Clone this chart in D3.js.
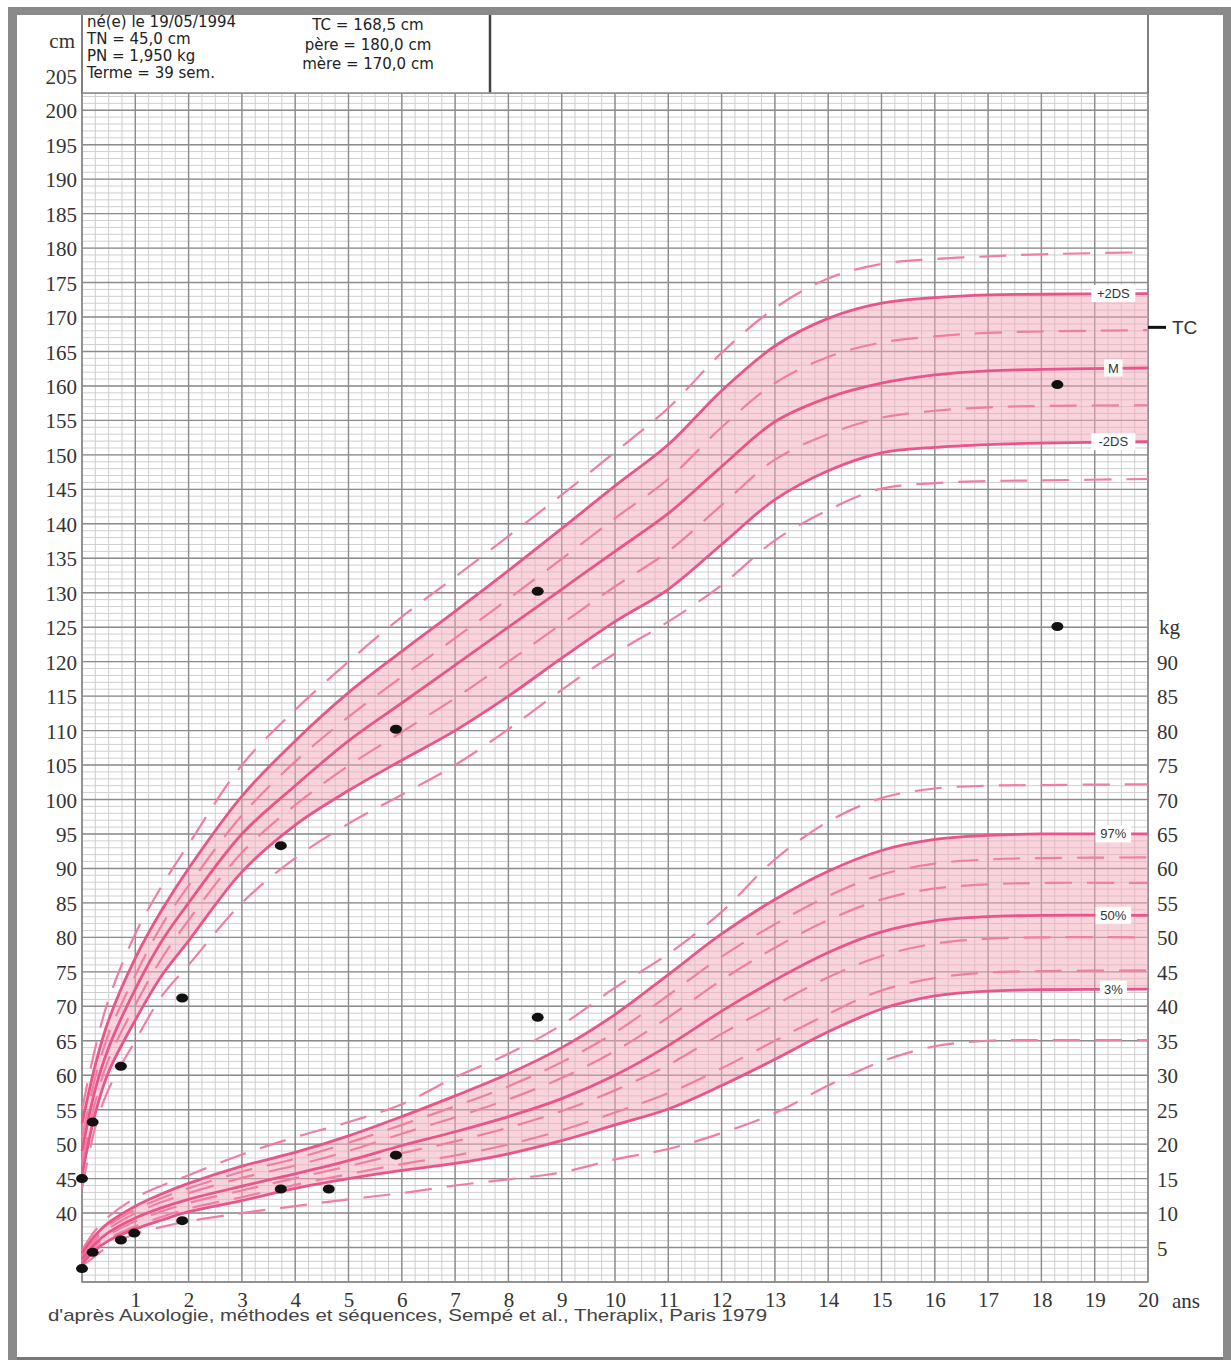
<!DOCTYPE html>
<html>
<head>
<meta charset="utf-8">
<script src="https://cdn.jsdelivr.net/npm/d3@7"></script>
<style>
body { margin: 0; background: #fff; }
</style>
</head>
<body>
<div id="chart"></div>
<script>
// ages (years)
var ages = [0, 0.25, 0.5, 1, 1.5, 2, 3, 4, 5, 6, 7, 8, 9, 10, 11, 12, 13, 14, 15, 16, 17, 18, 20];

// height curves (cm)
var hP3 = [55, 64, 71, 80.5, 87.5, 93.5, 105, 113, 120, 126.5, 132.3, 138.2, 144.2, 150.4, 156.8, 164.8, 171.3, 175.6, 177.7, 178.4, 178.8, 179.1, 179.4];
var hP2 = [53, 61.5, 68, 77, 84, 90, 100.5, 108.5, 115.5, 121.5, 127.3, 133.2, 139.3, 145.5, 151.5, 159.3, 165.8, 169.8, 172, 172.8, 173.2, 173.3, 173.4];
var hP1 = [51, 59.7, 66, 74.5, 81.8, 87.5, 97.7, 105.5, 112, 117.8, 123.4, 129.1, 134.9, 140.8, 146.5, 154, 160.4, 164.2, 166.3, 167.2, 167.7, 167.9, 168.1];
var hM  = [49, 58, 64, 72.5, 79.5, 85, 95, 102, 108.5, 114, 119.5, 125, 130.5, 136, 141.5, 148.3, 154.8, 158.3, 160.4, 161.6, 162.2, 162.4, 162.6];
var hM1 = [47.2, 56.2, 62.3, 70.2, 77, 82.5, 92.3, 99.2, 104.9, 109.8, 114.7, 120, 125.5, 130.9, 136, 142.7, 149.3, 153, 155.4, 156.4, 156.9, 157.1, 157.2];
var hM2 = [45.5, 54.5, 60.5, 68, 74.5, 79.5, 89.5, 96.3, 101.3, 105.7, 110, 115, 120.5, 125.8, 130.5, 137, 143.5, 147.7, 150.3, 151.1, 151.5, 151.7, 151.9];
var hM3 = [43.5, 52.5, 58, 65, 71.5, 76, 85, 91.5, 96.5, 100.7, 105, 110.2, 115.9, 121.2, 125.8, 131.1, 137.6, 142, 145.1, 145.9, 146.2, 146.3, 146.5];

// weight curves (kg)
var wHi = [4.6, 7.5, 9.5, 12.2, 14, 15.5, 18.5, 21, 23.2, 25.8, 29.7, 33.1, 37.3, 42.7, 47.6, 53.7, 61.3, 66.8, 70.2, 71.6, 72, 72.1, 72.2];
var w97 = [4.2, 6.8, 8.6, 11, 12.8, 14.3, 16.8, 18.8, 21.2, 24, 27, 30.2, 34, 38.8, 44.6, 50.5, 55.5, 59.6, 62.6, 64.2, 64.8, 65, 65];
var w90 = [3.9, 6.45, 8.2, 10.5, 12.2, 13.6, 16, 17.9, 20.2, 22.8, 25.5, 28.4, 31.9, 36.2, 41.6, 47.2, 51.9, 56, 59.1, 60.7, 61.3, 61.5, 61.6];
var w75 = [3.66, 6.1, 7.76, 10, 11.6, 12.9, 15.1, 16.9, 19, 21.5, 23.9, 26.5, 29.6, 33.5, 38.4, 43.8, 48.5, 52.5, 55.5, 57.1, 57.7, 57.9, 57.9];
var w50 = [3.3, 5.6, 7.2, 9.3, 10.8, 12, 13.9, 15.7, 17.6, 19.8, 21.8, 24, 26.6, 30, 34.3, 39.3, 43.8, 47.8, 50.8, 52.4, 53, 53.2, 53.2];
var w25 = [3.1, 5.3, 6.84, 8.82, 10.26, 11.46, 13.27, 15.07, 16.8, 18.7, 20.4, 22.4, 24.8, 27.8, 31.5, 36, 40.2, 44.2, 47.3, 49.1, 49.8, 50, 50];
var w10 = [2.78, 4.85, 6.3, 8.1, 9.45, 10.65, 12.3, 14.1, 15.65, 17.1, 18.35, 19.95, 22, 24.6, 27.4, 31, 35, 38.9, 42.3, 44.1, 44.9, 45.1, 45.2];
var w3  = [2.6, 4.6, 6, 7.7, 9, 10.2, 11.8, 13.6, 15, 16.2, 17.2, 18.6, 20.5, 22.8, 25.1, 28.5, 32.3, 36.3, 39.6, 41.5, 42.2, 42.4, 42.5];
var wLo = [2.3, 3.8, 5.2, 7, 8, 8.8, 10, 11, 12, 12.9, 14, 14.9, 15.9, 17.8, 19.3, 21.6, 24.5, 28.5, 32, 34.2, 35, 35.1, 35.1];

// measurements
var visitAges    = [0, 0.2, 0.73, 0.98, 1.88, 3.73, 4.63, 5.89, 8.55, 18.3];
var visitHeights = [45, 53.2, 61.3, null, 71.2, 93.3, null, 110.2, 130.2, 160.2];
var visitWeights = [1.95, 4.3, 6.1, 7.1, 8.9, 13.5, 13.5, 18.4, 38.4, 95.1];

var cmTicks = d3.range(40, 206, 5);
var kgTicks = d3.range(5, 91, 5);
var yearTicks = d3.range(1, 21);

var headerLeft = ["né(e) le 19/05/1994", "TN = 45,0 cm", "PN = 1,950 kg", "Terme = 39 sem."];
var headerRight = ["TC = 168,5 cm", "père = 180,0 cm", "mère = 170,0 cm"];
var targetHeight = 168.5;

var W = 1231, H = 1360;
var pL = 82, pR = 1148, pT = 93, pB = 1282;

var svg = d3.select("#chart")
  .append("svg")
    .attr("width", W)
    .attr("height", H);

var x = d3.scaleLinear().domain([0, 20]).range([pL, pR]);
var y = d3.scaleLinear().domain([30, 202.5]).range([pB, pT]);
var kg = function(v) { return y(v + 30); };

var pink = "#e9548a", pinkDash = "#f07ea3", fillPink = "#f5a9ba";
var serif = "'Liberation Serif', 'DejaVu Serif', serif";
var sans = "'Liberation Sans', Arial, sans-serif";
var wide = "'DejaVu Sans', Verdana, sans-serif";
var smooth = d3.curveCatmullRom.alpha(0.5);

// page frame
svg.append("rect").attr("x", 8).attr("y", 7).attr("width", 1223).attr("height", 8).attr("fill", "#8a8a8a");
svg.append("rect").attr("x", 8).attr("y", 7).attr("width", 9).attr("height", 1353).attr("fill", "#8a8a8a");
svg.append("rect").attr("x", 1223).attr("y", 7).attr("width", 8).attr("height", 1353).attr("fill", "#8a8a8a");
svg.append("rect").attr("x", 17).attr("y", 1357).attr("width", 1206).attr("height", 3).attr("fill", "#777");

// grid
var grid = svg.append("g");
grid.selectAll(".vmin").data(d3.range(0, 20.01, 0.25)).enter().append("line")
  .attr("x1", function(d) { return x(d); }).attr("x2", function(d) { return x(d); })
  .attr("y1", pT).attr("y2", pB)
  .attr("stroke", "#cfcfcf").attr("stroke-width", 1);
grid.selectAll(".hmin").data(d3.range(30, 203, 1)).enter().append("line")
  .attr("y1", function(d) { return y(d); }).attr("y2", function(d) { return y(d); })
  .attr("x1", pL).attr("x2", pR)
  .attr("stroke", "#cfcfcf").attr("stroke-width", 1);
grid.selectAll(".vmaj").data(d3.range(0, 21)).enter().append("line")
  .attr("x1", function(d) { return x(d); }).attr("x2", function(d) { return x(d); })
  .attr("y1", pT).attr("y2", pB)
  .attr("stroke", "#8c8c8c").attr("stroke-width", 1.4);
grid.selectAll(".hmaj").data(d3.range(30, 203, 5)).enter().append("line")
  .attr("y1", function(d) { return y(d); }).attr("y2", function(d) { return y(d); })
  .attr("x1", pL).attr("x2", pR)
  .attr("stroke", "#8c8c8c").attr("stroke-width", 1.4);
svg.append("rect").attr("x", pL).attr("y", pT)
  .attr("width", pR - pL).attr("height", pB - pT)
  .attr("fill", "none").attr("stroke", "#8c8c8c").attr("stroke-width", 1.5);

// bands
var rows = ages.map(function(a, i) { return i; });
var area = function(lo, hi, f) {
  return d3.area()
    .x(function(i) { return x(ages[i]); })
    .y0(function(i) { return f(lo[i]); })
    .y1(function(i) { return f(hi[i]); })
    .curve(smooth);
};
svg.append("path").datum(rows).attr("d", area(hM2, hP2, y))
  .attr("fill", fillPink).attr("opacity", 0.5);
svg.append("path").datum(rows).attr("d", area(w3, w97, kg))
  .attr("fill", fillPink).attr("opacity", 0.5);

function curve(vals, f, dashed) {
  var line = d3.line()
    .x(function(i) { return x(ages[i]); })
    .y(function(i) { return f(vals[i]); })
    .curve(smooth);
  svg.append("path").datum(rows)
    .attr("d", line)
    .attr("fill", "none")
    .attr("stroke", dashed ? pinkDash : pink)
    .attr("stroke-width", dashed ? 2.2 : 2.8)
    .attr("stroke-dasharray", dashed ? "27,15" : null);
}

[hP3, hP1, hM1, hM3].forEach(function(v) { curve(v, y, true); });
[wHi, w90, w75, w25, w10, wLo].forEach(function(v) { curve(v, kg, true); });
[hP2, hM, hM2].forEach(function(v) { curve(v, y, false); });
[w97, w50, w3].forEach(function(v) { curve(v, kg, false); });

// curve labels
var tags = [
  {t: "+2DS", v: hP2[hP2.length - 1], f: y},
  {t: "M", v: hM[hM.length - 1], f: y},
  {t: "-2DS", v: hM2[hM2.length - 1], f: y},
  {t: "97%", v: w97[w97.length - 1], f: kg},
  {t: "50%", v: w50[w50.length - 1], f: kg},
  {t: "3%", v: w3[w3.length - 1], f: kg}
];
tags.forEach(function(d) {
  var cx = x(19.35), cy = d.f(d.v);
  var bw = d.t.length * 8.5 + 10;
  svg.append("rect").attr("x", cx - bw / 2).attr("y", cy - 8.5)
    .attr("width", bw).attr("height", 17).attr("fill", "#fff");
  svg.append("text").attr("x", cx).attr("y", cy + 4.5)
    .attr("text-anchor", "middle")
    .style("font-family", sans).style("font-size", "13px").style("fill", "#333")
    .text(d.t);
});

// target height mark
svg.append("line").attr("x1", pR).attr("x2", pR + 18)
  .attr("y1", y(targetHeight)).attr("y2", y(targetHeight))
  .attr("stroke", "#111").attr("stroke-width", 3);
svg.append("text").attr("x", pR + 24).attr("y", y(targetHeight) + 7)
  .style("font-family", sans).style("font-size", "19px").style("fill", "#333")
  .text("TC");

// measurements
svg.append("g").selectAll("ellipse")
  .data(visitAges.map(function(a, i) { return [a, visitHeights[i]]; }).filter(function(d) { return d[1] != null; }))
  .enter().append("ellipse")
    .attr("cx", function(d) { return x(d[0]); })
    .attr("cy", function(d) { return y(d[1]); })
    .attr("rx", 6).attr("ry", 4.5).attr("fill", "#111");
svg.append("g").selectAll("ellipse")
  .data(visitAges.map(function(a, i) { return [a, visitWeights[i]]; }))
  .enter().append("ellipse")
    .attr("cx", function(d) { return x(d[0]); })
    .attr("cy", function(d) { return kg(d[1]); })
    .attr("rx", 6).attr("ry", 4.5).attr("fill", "#111");

// axes
var axL = svg.append("g")
  .attr("transform", "translate(" + (pL - 5) + ",0)")
  .call(d3.axisLeft(y).tickValues(cmTicks).tickSize(0).tickFormat(d3.format("d")));
axL.select(".domain").remove();
axL.selectAll("text").attr("x", 0).attr("dy", "0.36em")
  .style("font-family", serif).style("font-size", "21px").style("fill", "#333");
svg.append("text").attr("x", pL - 7).attr("y", y(210) + 7)
  .attr("text-anchor", "end")
  .style("font-family", serif).style("font-size", "21px").style("fill", "#333")
  .text("cm");

var kgScale = d3.scaleLinear().domain([0, 172.5]).range([pB, pT]);
var axR = svg.append("g")
  .attr("transform", "translate(" + (pR + 9) + ",0)")
  .call(d3.axisRight(kgScale).tickValues(kgTicks).tickSize(0).tickFormat(d3.format("d")));
axR.select(".domain").remove();
axR.selectAll("text").attr("x", 0).attr("dy", "0.36em")
  .style("font-family", serif).style("font-size", "21px").style("fill", "#333");
svg.append("text").attr("x", pR + 11).attr("y", kg(95) + 7)
  .style("font-family", serif).style("font-size", "21px").style("fill", "#333")
  .text("kg");

var axB = svg.append("g")
  .attr("transform", "translate(0," + (pB + 10) + ")")
  .call(d3.axisBottom(x).tickValues(yearTicks).tickSize(0).tickFormat(d3.format("d")));
axB.select(".domain").remove();
axB.selectAll("text").attr("y", 0).attr("dy", "0.72em")
  .style("font-family", serif).style("font-size", "21px").style("fill", "#333");
svg.append("text").attr("x", pR + 24).attr("y", pB + 26)
  .style("font-family", serif).style("font-size", "21px").style("fill", "#333")
  .text("ans");

svg.append("text").attr("x", 48).attr("y", 1321)
  .attr("textLength", 719).attr("lengthAdjust", "spacingAndGlyphs")
  .style("font-family", sans).style("font-size", "17px").style("fill", "#444")
  .text("d'après Auxologie, méthodes et séquences, Sempé et al., Theraplix, Paris 1979");

// header box
svg.append("rect").attr("x", pL).attr("y", 15).attr("width", pR - pL).attr("height", pT - 15)
  .attr("fill", "#fff");
svg.append("line").attr("x1", pL).attr("x2", pL).attr("y1", 15).attr("y2", pT)
  .attr("stroke", "#555").attr("stroke-width", 1.5);
svg.append("line").attr("x1", 490).attr("x2", 490).attr("y1", 15).attr("y2", pT)
  .attr("stroke", "#444").attr("stroke-width", 2.5);
svg.append("line").attr("x1", pR).attr("x2", pR).attr("y1", 15).attr("y2", pT)
  .attr("stroke", "#555").attr("stroke-width", 1.5);
svg.append("line").attr("x1", pL).attr("x2", pR).attr("y1", pT).attr("y2", pT)
  .attr("stroke", "#8c8c8c").attr("stroke-width", 1.5);

svg.append("g").selectAll("text").data(headerLeft).enter().append("text")
  .attr("x", 87).attr("y", function(d, i) { return 27 + i * 17; })
  .style("font-family", wide).style("font-size", "15px").style("fill", "#222")
  .text(function(d) { return d; });
svg.append("g").selectAll("text").data(headerRight).enter().append("text")
  .attr("x", 368).attr("y", function(d, i) { return 30 + i * 19.5; })
  .attr("text-anchor", "middle")
  .style("font-family", wide).style("font-size", "15px").style("fill", "#222")
  .text(function(d) { return d; });
</script>
</body>
</html>
